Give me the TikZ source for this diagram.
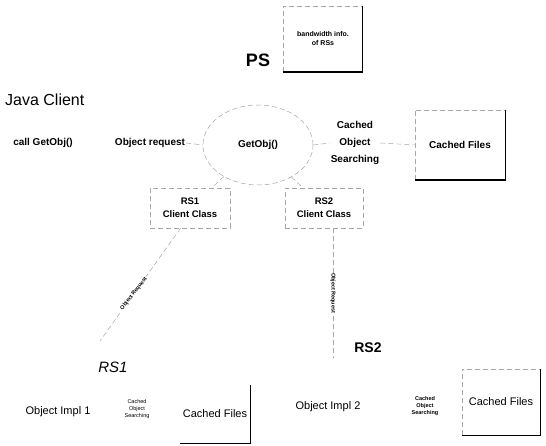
\documentclass[tikz,border=0pt]{standalone}
\usepackage{fontspec}
\setmainfont{Liberation Sans}
\usetikzlibrary{shapes.geometric}
\begin{document}
\begin{tikzpicture}[x=1pt,y=-1pt,
  lbl/.style={font=\fontsize{10}{12}\selectfont\bfseries, align=center, inner sep=1pt},
  lblr/.style={font=\fontsize{11}{13}\selectfont, align=center, inner sep=1pt},
  tinyb/.style={font=\fontsize{5.5}{7}\selectfont\bfseries, align=center, inner sep=0.5pt},
  tinyr/.style={font=\fontsize{5.5}{7}\selectfont, align=center, inner sep=0.5pt},
  faint/.style={draw=black!35, dash pattern=on 5pt off 3pt, line width=0.5pt},
  heavy/.style={draw=black, line width=1.4pt},
  boxnode/.style={inner sep=0pt}]
\useasboundingbox (0,0) rectangle (546,446);

% PS side
\node[font=\fontsize{16}{18}\selectfont, anchor=west, inner sep=0pt] (java) at (5,100) {Java Client};
\node[font=\fontsize{18}{20}\selectfont\bfseries, inner sep=0pt] (ps) at (258,60) {PS};
\node[boxnode, minimum width=79pt, minimum height=66pt, font=\fontsize{7}{9}\selectfont\bfseries, align=center] (bw) at (323,39) {bandwidth info.\\of RSs};
\draw[faint] (bw.south west) -- (bw.north west) -- (bw.north east);
\draw[heavy] (bw.north east) -- (bw.south east) -- (bw.south west);

\node[lbl] (call) at (43,143) {call GetObj()};
\node[lbl] (objreq) at (150,143) {Object request};
\node[ellipse, minimum width=110pt, minimum height=80pt, faint, lbl] (getobj) at (258,145) {GetObj()};
\node[font=\fontsize{10}{17}\selectfont\bfseries, align=center, inner sep=1pt] (cos) at (355,143) {Cached\\Object\\Searching};
\node[boxnode, lbl, minimum width=90pt, minimum height=70pt] (cf) at (460,145) {Cached Files};
\draw[faint] (cf.south west) -- (cf.north west) -- (cf.north east);
\draw[heavy] (cf.north east) -- (cf.south east) -- (cf.south west);

\draw[faint] (objreq.east) -- (getobj.west);
\draw[faint] (getobj.east) -- (cos.west);
\draw[faint] (cos.east) -- (cf.west);

% RS client classes
\node[faint, font=\fontsize{9.5}{13}\selectfont\bfseries, align=center, minimum width=80pt, minimum height=40pt] (rs1c) at (190,208) {RS1\\Client Class};
\node[faint, font=\fontsize{9.5}{13}\selectfont\bfseries, align=center, minimum width=78pt, minimum height=40pt] (rs2c) at (324,208) {RS2\\Client Class};
\draw[faint] (getobj) -- (rs1c);
\draw[faint] (getobj) -- (rs2c);

% RS nodes
\node[font=\fontsize{15}{17}\selectfont\itshape, inner sep=0pt] (rs1) at (113,367) {RS1};
\node[font=\fontsize{14}{16}\selectfont\bfseries, inner sep=0pt] (rs2) at (368,348) {RS2};
\coordinate (rs1top) at (100,341);
\coordinate (rs2top) at (333,358);
\draw[faint] (rs1c.-115) -- (rs1top) node[tinyb, pos=0.58, rotate=52, fill=white] {Object\,Request};
\draw[faint] (rs1c.south -| rs2top) -- (rs2top) node[tinyb, midway, rotate=-90, fill=white] {Object\,Request};

% RS1 bottom
\node[lblr] (impl1) at (58,412) {Object Impl 1};
\node[tinyr] (cos1) at (137,409) {Cached\\Object\\Searching};
\node[boxnode, lblr, minimum width=70pt, minimum height=58pt] (cf1) at (215,414) {Cached Files};
\draw[heavy] (cf1.north east) -- (cf1.south east) -- (cf1.south west);

% RS2 bottom
\node[lblr] (impl2) at (328,407) {Object Impl 2};
\node[tinyb] (cos2) at (425,406) {Cached\\Object\\Searching};
\node[boxnode, lblr, minimum width=78pt, minimum height=66pt] (cf2) at (501,402) {Cached Files};
\draw[faint] (cf2.south west) -- (cf2.north west) -- (cf2.north east);
\draw[heavy] (cf2.north east) -- (cf2.south east) -- (cf2.south west);
\end{tikzpicture}
\end{document}
